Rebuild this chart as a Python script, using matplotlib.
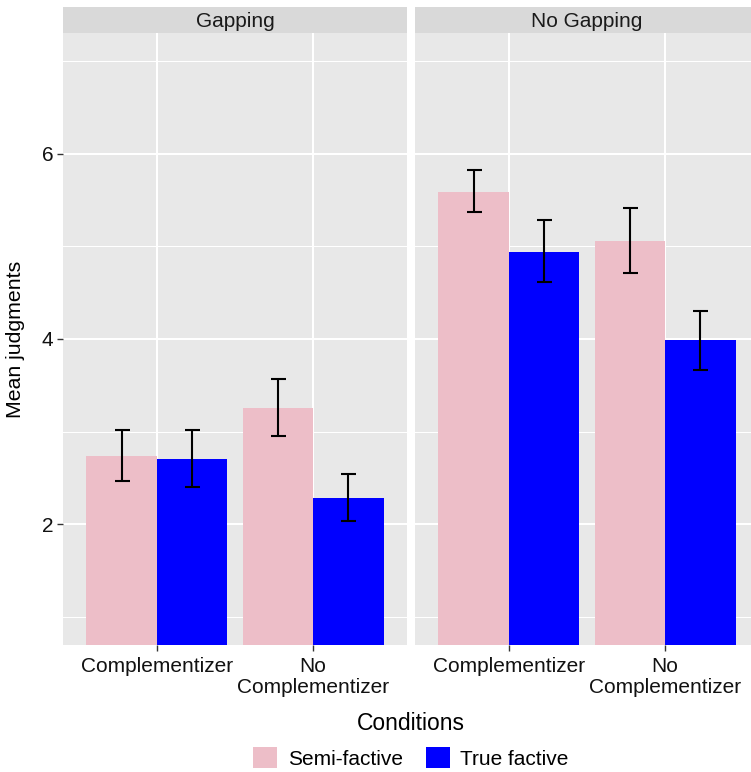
import matplotlib.pyplot as plt
from matplotlib.patches import Patch

plt.rcParams['font.family'] = ['Liberation Sans', 'DejaVu Sans']

panels = ["Gapping", "No Gapping"]
conditions = ["Complementizer", "No\nComplementizer"]
groups = ["Semi-factive", "True factive"]

# mean judgments per panel, order = conditions
gap_semi = [2.74, 3.26]
gap_true = [2.71, 2.28]
nogap_semi = [5.59, 5.06]
nogap_true = [4.94, 3.99]

# error bar ends
gap_semi_lo = [2.47, 2.95]
gap_semi_hi = [3.02, 3.57]
gap_true_lo = [2.40, 2.04]
gap_true_hi = [3.02, 2.54]
nogap_semi_lo = [5.37, 4.71]
nogap_semi_hi = [5.82, 5.41]
nogap_true_lo = [4.61, 3.67]
nogap_true_hi = [5.28, 4.30]

colors = ['#EDBEC8', '#0000FF']

W, H = 751, 772
fig = plt.figure(figsize=(W / 100, H / 100), dpi=100)

panel_data = [
    [(gap_semi, gap_semi_lo, gap_semi_hi), (gap_true, gap_true_lo, gap_true_hi)],
    [(nogap_semi, nogap_semi_lo, nogap_semi_hi), (nogap_true, nogap_true_lo, nogap_true_hi)],
]
lefts = [63, 415]
pw = 344
top, bottom = 33, 645

for p, name in enumerate(panels):
    ax = fig.add_axes([lefts[p] / W, (H - bottom) / H, pw / W, (bottom - top) / H])
    ax.set_facecolor('#E8E8E8')
    x = [1, 2]
    for g, (vals, lo, hi) in enumerate(panel_data[p]):
        off = -0.225 if g == 0 else 0.225
        xs = [xi + off for xi in x]
        ax.bar(xs, vals, width=0.45, color=colors[g], zorder=2)
        yerr = [[v - l for v, l in zip(vals, lo)], [h - v for v, h in zip(vals, hi)]]
        ax.errorbar(xs, vals, yerr=yerr, fmt='none', ecolor='black',
                    elinewidth=1.5, capsize=5.4, capthick=1.5, zorder=3)
    ax.set_xlim(0.4, 2.6)
    ax.set_ylim(0.7, 7.3)
    ax.set_xticks(x)
    ax.set_xticklabels(conditions, linespacing=1.1)
    ax.set_yticks([2, 4, 6])
    ax.set_yticks([1, 3, 5, 7], minor=True)
    ax.grid(which='major', color='white', lw=1.45, zorder=0)
    ax.grid(which='minor', axis='y', color='white', lw=0.72, zorder=0)
    ax.set_axisbelow(True)
    for s in ax.spines.values():
        s.set_visible(False)
    ax.tick_params(which='major', labelsize=15, color='#333333', length=4, width=1,
                   labelcolor='#111111', pad=3)
    ax.tick_params(axis='x', pad=5)
    ax.tick_params(which='minor', length=0)
    if p == 1:
        ax.tick_params(axis='y', left=False, labelleft=False)

    sax = fig.add_axes([lefts[p] / W, (H - top) / H, pw / W, 26 / H])
    sax.set_facecolor('#D9D9D9')
    sax.set_xticks([])
    sax.set_yticks([])
    for s in sax.spines.values():
        s.set_visible(False)
    sax.text(0.5, 0.45, name, ha='center', va='center', fontsize=15, color='#1A1A1A',
             transform=sax.transAxes)

fig.text(16 / W, 1 - 339 / H, "Mean judgments", rotation=90, ha='center', va='center',
         fontsize=15.3, color='black')
fig.text(411 / W, 1 - 730 / H, "Conditions", ha='center', va='baseline',
         fontsize=16.5, color='black')

handles = [Patch(facecolor=c, edgecolor='none') for c in colors]
fig.legend(handles, groups, loc='center', bbox_to_anchor=(411 / W, 1 - 758 / H), ncol=2,
           frameon=False, fontsize=15, handlelength=1.15, handleheight=1.15,
           handletextpad=0.5, columnspacing=1.1, borderpad=0)

fig.savefig('out.png', dpi=100)
